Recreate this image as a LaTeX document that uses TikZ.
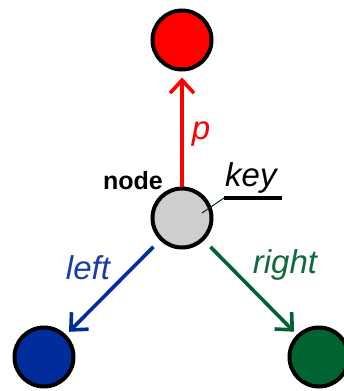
\documentclass[tikz,border=0pt]{standalone}
\usepackage{fontspec}
\setmainfont{Liberation Sans}
\usetikzlibrary{arrows.meta}
\definecolor{myred}{RGB}{255,0,0}
\definecolor{mygray}{RGB}{205,206,205}
\definecolor{myblue}{RGB}{0,45,155}
\definecolor{mybluetxt}{RGB}{25,60,165}
\definecolor{mygreen}{RGB}{0,100,50}
\definecolor{mygreentxt}{RGB}{20,105,60}
\tikzset{
  ball/.style={circle, draw=black, line width=4pt, minimum size=59pt, inner sep=0pt},
  link/.style={line width=3.6pt, -{Straight Barb[length=13pt,width=24pt,line width=3.6pt]}},
  lbl/.style={font=\fontsize{33}{35}\selectfont\itshape, inner sep=0pt},
}
\begin{document}
\begin{tikzpicture}[x=1pt,y=-1pt]
\useasboundingbox (0,0) rectangle (344,391);
\node[ball, fill=myred] (top) at (182,40) {};
\node[ball, fill=mygray] (n) at (182,218) {};
\node[ball, fill=myblue] (l) at (44,357) {};
\node[ball, fill=mygreen] (r) at (319,357) {};

\draw[link, myred, shorten >=6pt] (n) -- (top);
\draw[link, myblue, shorten <=9pt, shorten >=4pt] (n) -- (l);
\draw[link, mygreen, shorten <=9pt, shorten >=4pt] (n) -- (r);

\node[lbl, text=myred] (pl) at (201,134) {p};
\node[lbl, text=mybluetxt] (ll) at (88,268) {left};
\node[lbl, text=mygreentxt] (rl) at (285,265) {right};
\node[font=\fontsize{25}{27}\selectfont\bfseries, inner sep=0pt] (nl) at (133,181) {node};
\node[lbl, anchor=south west] (key) at (225,194) {key};
\coordinate (ka) at (224,198);
\coordinate (kb) at (282,198);
\coordinate (kp) at (202,213);
\draw[line width=3.5pt] (ka) -- (kb);
\draw[line width=1pt, black!70!teal] (kp) -- (ka);
\end{tikzpicture}
\end{document}
